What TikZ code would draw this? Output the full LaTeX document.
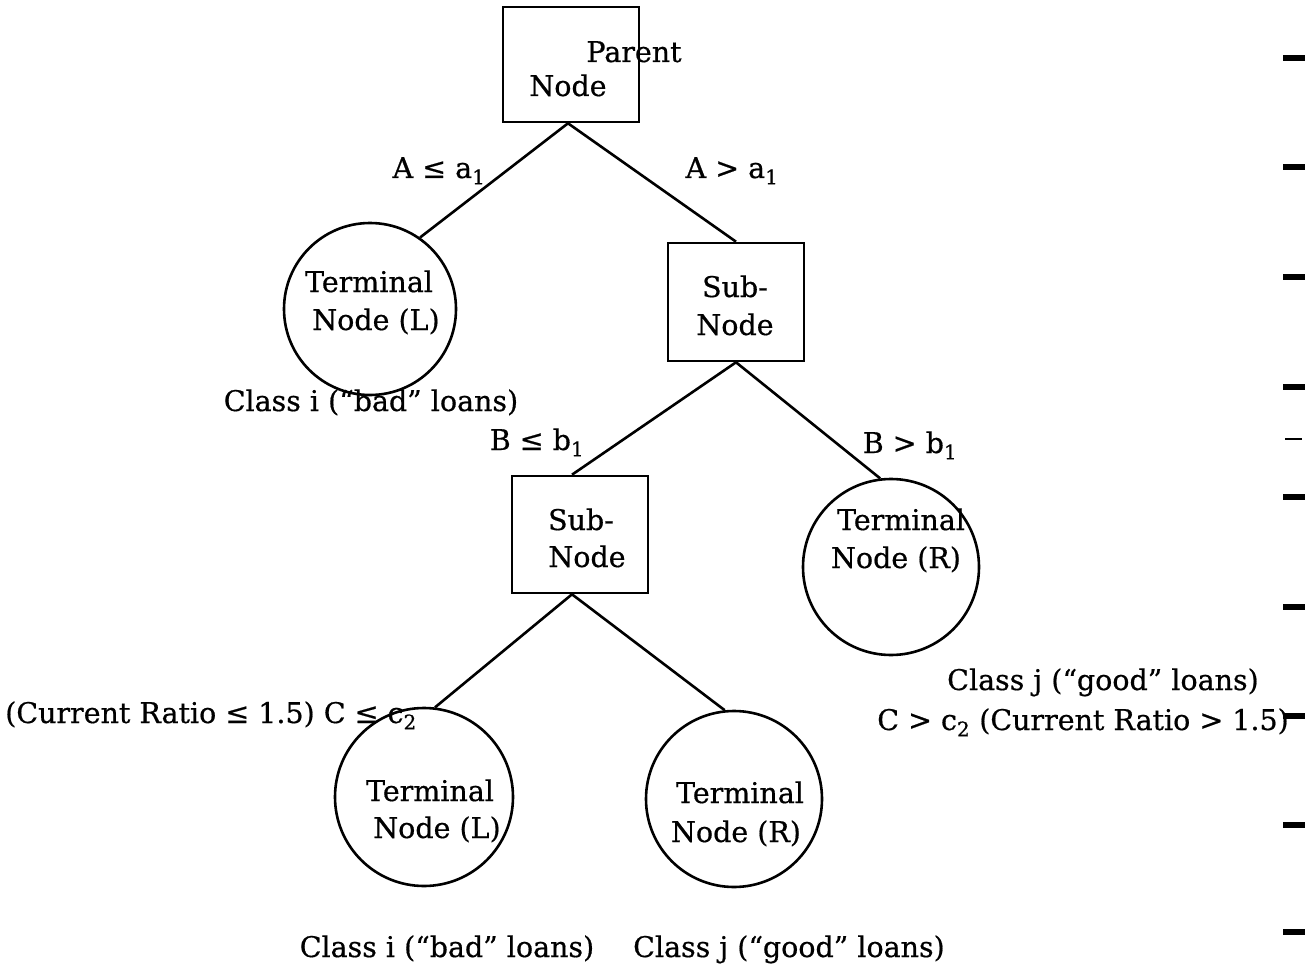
\documentclass[tikz,border=0pt]{standalone}
\usepackage{fontspec}
\setmainfont{DejaVu Serif}[FakeBold=0.6]
\begin{document}
\begin{tikzpicture}[x=1pt,y=-1pt,
  line width=2.6pt,
  box/.style={draw,rectangle,inner sep=0pt,minimum width=136pt},
  term/.style={draw,circle,inner sep=0pt},
  txt/.style={inner sep=0pt,anchor=base,font=\fontsize{28.5}{39}\selectfont},
  tick/.style={line width=6pt},
]
\useasboundingbox (0,0) rectangle (1312,971);

% decision boxes
\node[box,minimum height=115pt] (P)  at (571,64.5) {};
\node[box,minimum height=118pt] (S1) at (736,302) {};
\node[box,minimum height=117pt] (S2) at (580,534.5) {};

% terminal nodes
\node[term,minimum size=172pt] (L1) at (370,309) {};
\node[term,minimum size=176pt] (R1) at (891,567) {};
\node[term,minimum size=178pt] (L2) at (424,797) {};
\node[term,minimum size=176pt] (R2) at (734,799) {};

% branches
\draw ([xshift=-3pt]P.south) -- (L1.55);
\draw ([xshift=-3pt]P.south) -- (S1.north);
\draw (S1.south) -- ([xshift=-8pt]S2.north);
\draw (S1.south) -- (R1.97);
\draw ([xshift=-8pt]S2.south) -- (L2.83);
\draw ([xshift=-8pt]S2.south) -- (R2.96);

% node texts
\node[txt] (tP1) at (634,62) {Parent};
\node[txt] (tP2) at (568,96) {Node};
\node[txt] (tS11) at (735,297) {Sub-};
\node[txt] (tS12) at (735,335) {Node};
\node[txt] (tS21) at (581,530) {Sub-};
\node[txt] (tS22) at (587,567) {Node};
\node[txt] (tL11) at (369,292) {Terminal};
\node[txt] (tL12) at (376,330) {Node (L)};
\node[txt] (tR11) at (901,530) {Terminal};
\node[txt] (tR12) at (896,568) {Node (R)};
\node[txt] (tL21) at (430,801) {Terminal};
\node[txt] (tL22) at (437,838) {Node (L)};
\node[txt] (tR21) at (740,803) {Terminal};
\node[txt] (tR22) at (736,842) {Node (R)};

% split conditions
\node[txt] (cA1) at (439,178) {A ≤ a\textsubscript{1}};
\node[txt] (cA2) at (732,178) {A > a\textsubscript{1}};
\node[txt] (cB1) at (537,450) {B ≤ b\textsubscript{1}};
\node[txt] (cB2) at (910,453) {B > b\textsubscript{1}};
\node[txt] (cC1) at (211,723) {(Current Ratio ≤ 1.5) C ≤ c\textsubscript{2}};
\node[txt] (cC2) at (1083,730) {C > c\textsubscript{2} (Current Ratio > 1.5)};

% class labels
\node[txt] (k1) at (371,411) {Class i (“bad” loans)};
\node[txt] (k2) at (1103,690) {Class j (“good” loans)};
\node[txt] (k3) at (447,957) {Class i (“bad” loans)};
\node[txt] (k4) at (789,957) {Class j (“good” loans)};

% margin tick marks
\foreach \y in {58,167,277,387,497,607,716,825,932}
  \draw[tick] (1283,\y) -- (1305,\y);
\draw[line width=1.5pt] (1285,439) -- (1302,439);
\end{tikzpicture}
\end{document}
